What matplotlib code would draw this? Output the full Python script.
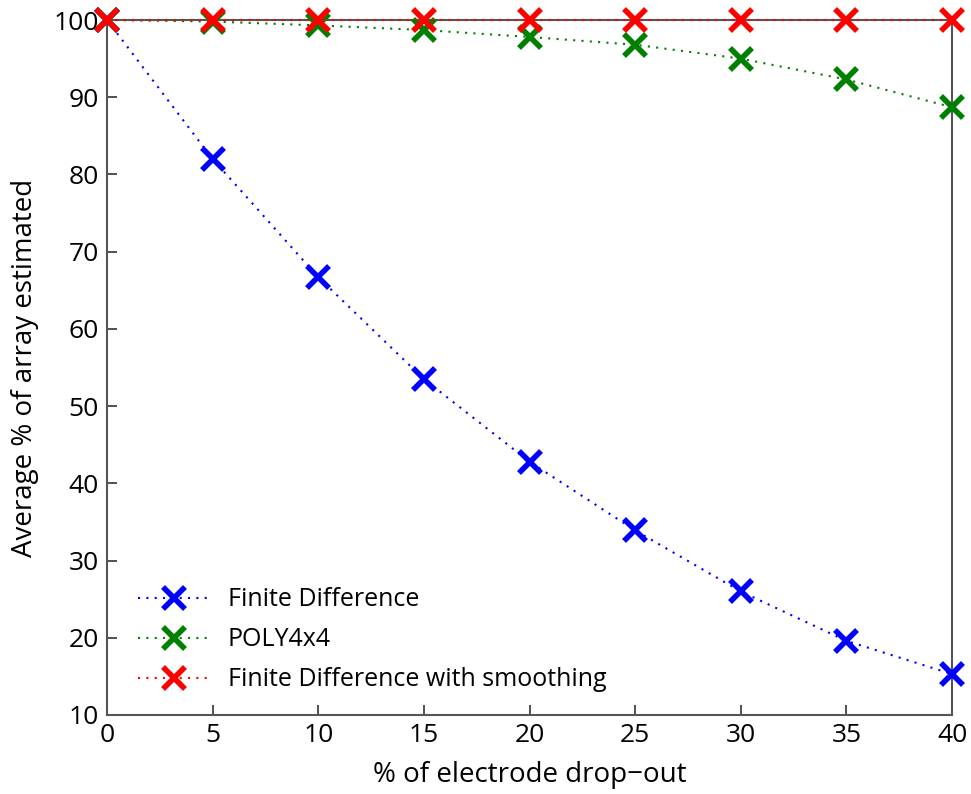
import matplotlib
matplotlib.use("Agg")
import matplotlib.pyplot as plt

plt.rcParams['font.family'] = ['Open Sans', 'DejaVu Sans']

x = [0, 5, 10, 15, 20, 25, 30, 35, 40]
finite_diff = [100, 82.0, 66.7, 53.5, 42.8, 33.9, 26.0, 19.6, 15.3]
poly4x4 = [100, 99.8, 99.3, 98.7, 97.8, 96.8, 95.0, 92.3, 88.7]
fd_smooth = [100, 100, 100, 100, 100, 100, 100, 100, 100]

labels = ["Finite Difference", "POLY4x4", "Finite Difference with smoothing"]
colors = ["#0000ff", "#008000", "#ff0000"]

fig = plt.figure(figsize=(9.71, 7.94), dpi=100)
ax = fig.add_axes([107/971, 1-715/794, (952-107)/971, (715-20)/794])

for ys, lab, c in zip([finite_diff, poly4x4, fd_smooth], labels, colors):
    ax.plot(x, ys, linestyle=(0, (1, 3)), color=c, linewidth=1.5,
            marker='x', markersize=16, markeredgewidth=4, label=lab, clip_on=False, zorder=3)

ax.set_xlim(0, 40)
ax.set_ylim(10, 100)
ax.set_xticks(range(0, 41, 5))
ax.set_yticks(range(10, 101, 10))
ax.tick_params(direction='in', length=7, width=1.2, labelsize=19, colors='#333333',
               labelcolor='black', pad=6)
for s in ax.spines.values():
    s.set_color('#555555')
    s.set_linewidth(1.5)
ax.set_xlabel("% of electrode drop\u2212out", fontsize=20, labelpad=9)
ax.set_ylabel("Average % of array estimated", fontsize=20, labelpad=10)
ax.legend(loc='lower left', bbox_to_anchor=(0.01, 0.0), frameon=False, fontsize=18,
          handlelength=2.9, handletextpad=0.7, labelspacing=0.6)

fig.savefig("out.png", dpi=100)
